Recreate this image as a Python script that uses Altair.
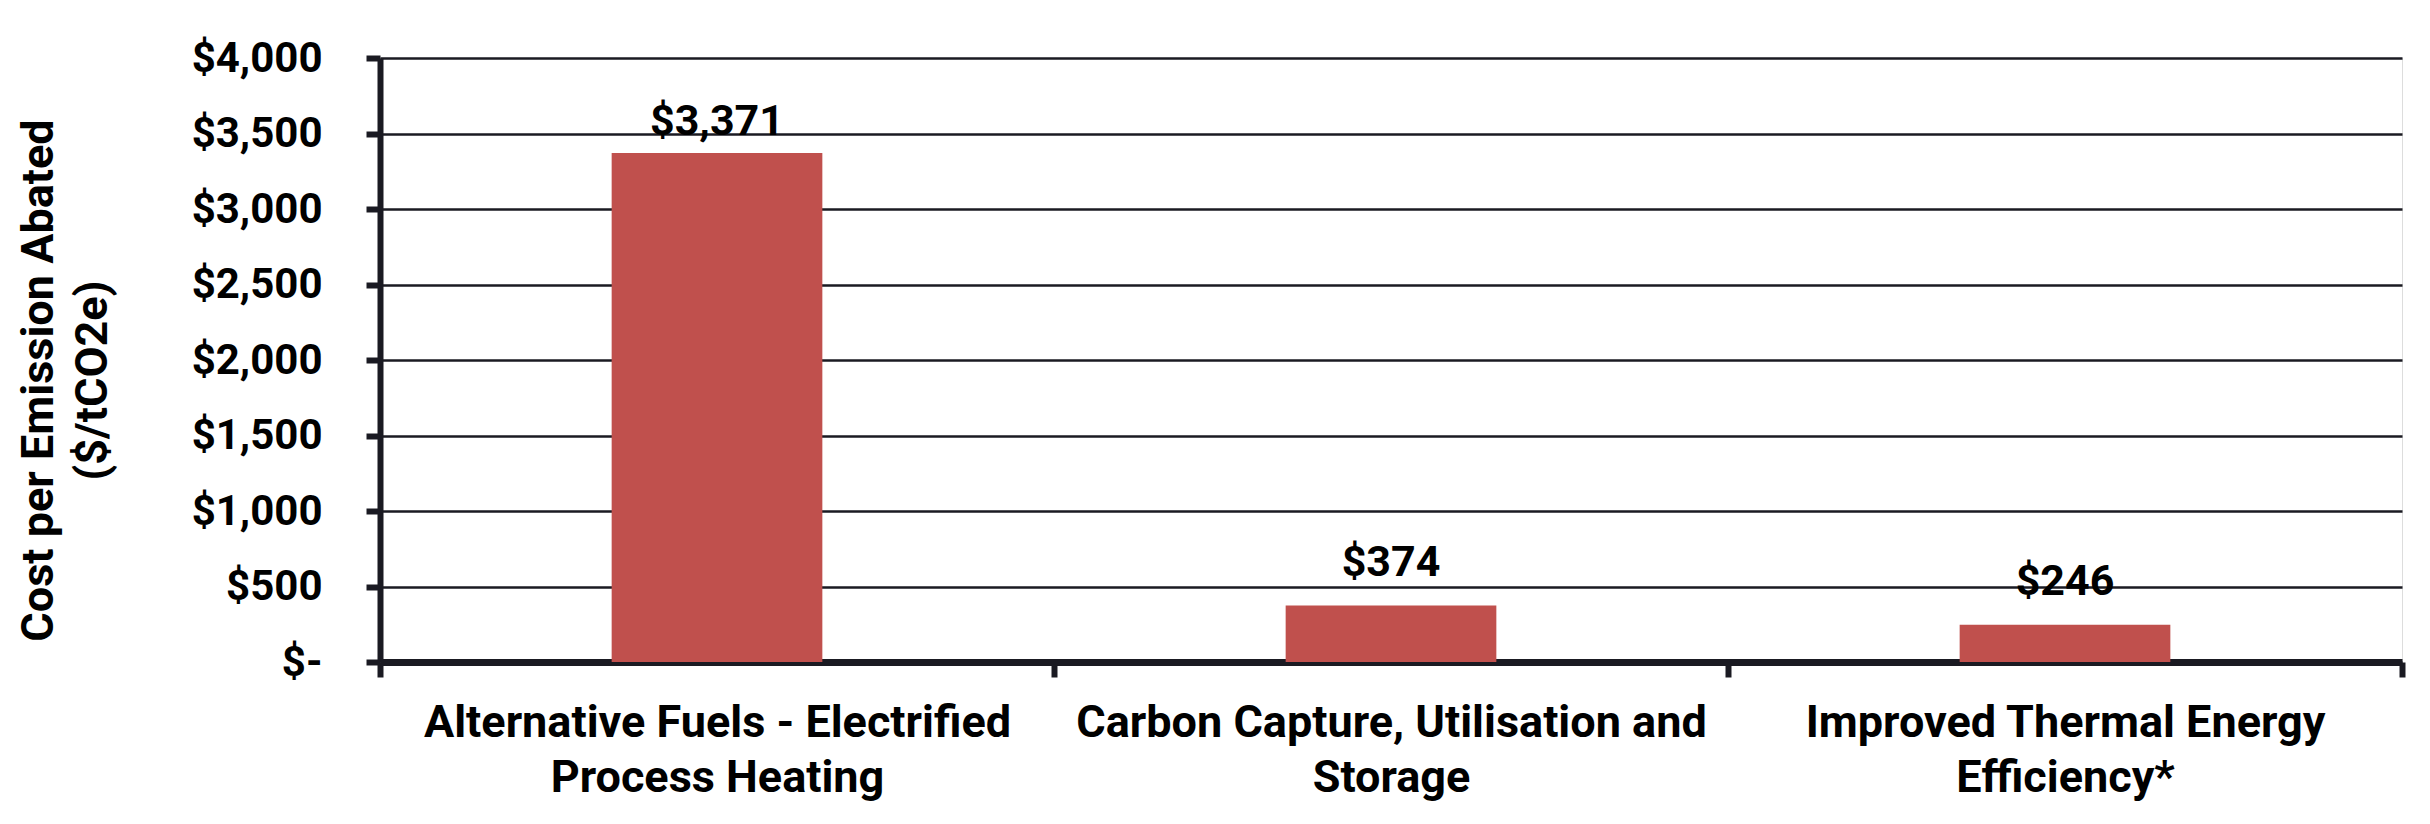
import altair as alt
import pandas as pd

categories = [
    "Alternative Fuels - Electrified\nProcess Heating",
    "Carbon Capture, Utilisation and\nStorage",
    "Improved Thermal Energy\nEfficiency*",
]
values = [3371, 374, 246]
y_ticks = [0, 500, 1000, 1500, 2000, 2500, 3000, 3500, 4000]

df = pd.DataFrame({"cat": categories, "value": values})

DARK = "#1a1a22"
FONT = "Roboto"

x_enc = alt.X(
    "cat:N",
    sort=categories,
    scale=alt.Scale(paddingInner=0, paddingOuter=0),
    axis=alt.Axis(
        title=None,
        tickBand="extent",
        labelExpr="split(datum.label, '\\n')",
        labelAngle=0,
        labelFont=FONT,
        labelFontWeight="bold",
        labelFontSize=45,
        labelColor="black",
        labelLineHeight=55,
        labelBaseline="alphabetic",
        labelPadding=59,
        labelLimit=2000,
        tickSize=15,
        tickWidth=6,
        tickColor=DARK,
        domainWidth=7,
        domainColor=DARK,
        grid=False,
    ),
)

y_enc = alt.Y(
    "value:Q",
    scale=alt.Scale(domain=[0, 4000], nice=False),
    axis=alt.Axis(
        title=["Cost per Emission Abated", "($/tCO2e)"],
        values=y_ticks,
        labelExpr="datum.value == 0 ? '$-\u00a0\u00a0' : '$' + format(datum.value, ',')",
        labelFont=FONT,
        labelFontWeight="bold",
        labelFontSize=42,
        labelColor="black",
        labelPadding=44,
        tickSize=14,
        tickWidth=6,
        tickColor=DARK,
        domainWidth=6,
        domainColor=DARK,
        grid=True,
        gridColor=DARK,
        gridWidth=2.5,
        titleFont=FONT,
        titleFontWeight="bold",
        titleFontSize=45,
        titleColor="black",
        titleAngle=270,
        titleAlign="center",
        titleBaseline="alphabetic",
        titleLineHeight=54,
        titleX=-328,
        titleY=322,
    ),
)

bars = alt.Chart(df).mark_bar(
    width=alt.RelativeBandSize(0.3126), color="#C0504D"
).encode(x=x_enc, y=y_enc)

text_style = dict(
    baseline="alphabetic",
    align="center",
    font=FONT,
    fontWeight="bold",
    fontSize=43,
    color="black",
)
text_enc = dict(
    x=alt.X("cat:N", sort=categories),
    y=alt.Y("value:Q"),
    text=alt.Text("value:Q", format="$,.0f"),
)

label_big = (
    alt.Chart(df)
    .transform_filter(alt.datum.cat == categories[0])
    .mark_text(dy=-18, **text_style)
    .encode(**text_enc)
)
label_small = (
    alt.Chart(df)
    .transform_filter(alt.datum.cat != categories[0])
    .mark_text(dy=-30, **text_style)
    .encode(**text_enc)
)

chart = (
    alt.layer(bars, label_big, label_small)
    .properties(
        width=2022,
        height=604,
        autosize=alt.AutoSizeParams(type="none"),
        padding={"left": 372, "top": 50, "right": 20, "bottom": 150},
    )
    .configure_view(stroke=None)
    .configure(background="white")
)

chart.save("out.html", embed_options={"renderer": "svg", "actions": False})
